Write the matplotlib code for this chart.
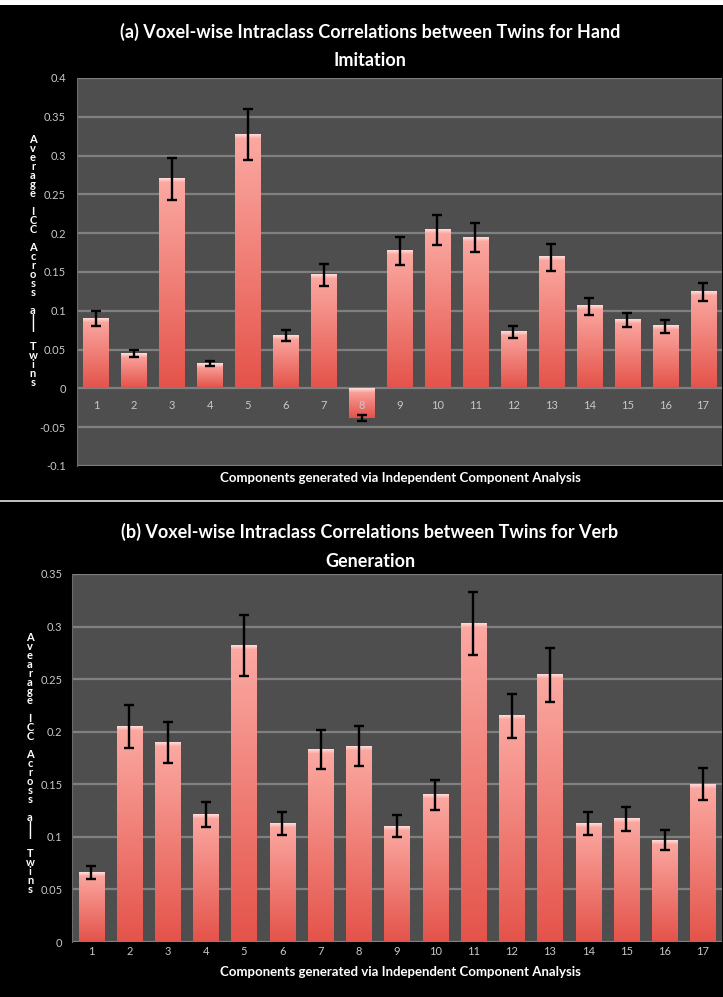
import numpy as np
import matplotlib.pyplot as plt
from matplotlib.colors import to_rgb

components = list(range(1, 18))

# (a) hand imitation: mean ICC per component and error bar half-width
hand_icc = [0.090, 0.045, 0.270, 0.032, 0.327, 0.068, 0.146, -0.038, 0.177,
            0.204, 0.194, 0.073, 0.169, 0.106, 0.088, 0.080, 0.124]
hand_err = [0.0094, 0.0045, 0.027, 0.003, 0.033, 0.007, 0.0145, 0.0035, 0.018,
            0.0195, 0.0187, 0.0077, 0.0175, 0.011, 0.0088, 0.008, 0.012]
hand_yticks = [-0.1, -0.05, 0, 0.05, 0.1, 0.15, 0.2, 0.25, 0.3, 0.35, 0.4]
hand_yticklabels = ['-0.1', '-0.05', '0', '0.05', '0.1', '0.15', '0.2', '0.25', '0.3', '0.35', '0.4']

# (b) verb generation
verb_icc = [0.066, 0.205, 0.190, 0.121, 0.282, 0.113, 0.183, 0.186, 0.110,
            0.140, 0.303, 0.215, 0.254, 0.113, 0.117, 0.097, 0.150]
verb_err = [0.0065, 0.0205, 0.0195, 0.012, 0.029, 0.011, 0.0184, 0.019, 0.0105,
            0.014, 0.030, 0.0213, 0.0256, 0.011, 0.0112, 0.0099, 0.0153]
verb_yticks = [0, 0.05, 0.1, 0.15, 0.2, 0.25, 0.3, 0.35]
verb_yticklabels = ['0', '0.05', '0.1', '0.15', '0.2', '0.25', '0.3', '0.35']

FONT = 'Lato'
TICK_COLOR = '#c8c8c8'
PLOT_BG = '#4e4e4e'
GRID_COLOR = '#808080'
BAR_TOP = to_rgb('#fbaaa3')
BAR_BOTTOM = to_rgb('#e4534a')
STACK_PITCH = 8.55  # px between stacked y-label characters

W, H = 723, 997
fig = plt.figure(figsize=(W / 100, H / 100), dpi=100, facecolor='black')
renderer = fig.canvas.get_renderer()

# white frame strip along the top and the line between the two panels
fig.patches.append(plt.Rectangle((0, 1 - 5 / H), 1, 5 / H, transform=fig.transFigure,
                                 facecolor='white', edgecolor='none'))
fig.patches.append(plt.Rectangle((0, 1 - 502 / H), 1, 2 / H, transform=fig.transFigure,
                                 facecolor='#bdbdbd', edgecolor='none'))


def bar_gradient(px_height):
    # light pink at the top fading to red, with a small glossy band on top
    n = max(int(px_height), 2)
    t = np.linspace(0, 1, n)[:, None]
    rgb = np.array(BAR_TOP) * (1 - t) + np.array(BAR_BOTTOM) * t
    d = np.arange(n)[:, None]
    gloss = np.clip(1 - d / 4.0, 0, 1) * 0.55
    rgb = rgb * (1 - gloss) + gloss
    return rgb[:, None, :]


def stacked_label(x_px, top_px, label):
    # one character per row; linespacing is scaled so rows sit STACK_PITCH px apart
    kw = dict(ha='center', va='top', color='white', fontsize=8, fontweight='bold', family=FONT)
    t = fig.text(x_px / W, 1 - top_px / H, '\n'.join(label), linespacing=1.0, **kw)
    one = fig.text(0, 0, 'A', **kw)
    h_all = t.get_window_extent(renderer).height
    h_one = one.get_window_extent(renderer).height
    one.remove()
    pitch = (h_all - h_one) / (len(label) - 1)
    t.set_linespacing(STACK_PITCH / pitch)


def draw_panel(rect, values, errors, yticks, yticklabels, ylim, title, ylabel,
               title_y, xlabel_y, ylabel_x, ylabel_top, xpad, ypad):
    ax = fig.add_axes(rect)
    ax.set_facecolor(PLOT_BG)
    for side in ['top', 'right', 'bottom']:
        ax.spines[side].set_visible(False)
    ax.spines['left'].set_color('#6c6c6c')
    ax.spines['bottom'].set_position(('data', 0))
    ax.set_xlim(0.5, 17.5)
    ax.set_ylim(*ylim)

    for yv in yticks:
        ax.axhline(yv, color=GRID_COLOR, linewidth=1.6, zorder=1)

    bars = ax.bar(components, values, width=0.66, color='none', edgecolor='none', zorder=2)
    fig.canvas.draw()
    for b in bars:
        x0, w = b.get_x(), b.get_width()
        lo, hi = sorted([b.get_y(), b.get_y() + b.get_height()])
        px = abs(ax.transData.transform((0, hi))[1] - ax.transData.transform((0, lo))[1])
        ax.imshow(bar_gradient(px), extent=[x0, x0 + w, lo, hi], aspect='auto',
                  interpolation='bilinear', zorder=2)
    ax.set_xlim(0.5, 17.5)
    ax.set_ylim(*ylim)

    ax.errorbar(components, values, yerr=errors, fmt='none', ecolor='black',
                elinewidth=1.7, capsize=3.5, capthick=1.7, zorder=3)

    ax.set_yticks(yticks)
    ax.set_yticklabels(yticklabels, color=TICK_COLOR, fontsize=8, family=FONT)
    ax.set_xticks(components)
    ax.set_xticklabels([str(c) for c in components], color=TICK_COLOR, fontsize=8, family=FONT)
    ax.tick_params(axis='both', length=0)
    ax.tick_params(axis='x', pad=xpad)
    ax.tick_params(axis='y', pad=ypad)
    ax.xaxis.set_zorder(5)

    # panel title, two centred lines
    for i, line in enumerate(title):
        fig.text(370 / W, 1 - (title_y + 29 * i) / H, line, ha='center', va='center',
                 color='white', fontsize=13, fontweight='bold', family=FONT)

    fig.text(400 / W, 1 - xlabel_y / H, 'Components generated via Independent Component Analysis',
             ha='center', va='center', color='white', fontsize=9.5, fontweight='bold', family=FONT)

    stacked_label(ylabel_x, ylabel_top, ylabel)
    return ax


draw_panel([77 / W, 1 - 466 / H, 645 / W, 388 / H], hand_icc, hand_err,
           hand_yticks, hand_yticklabels, (-0.1, 0.4),
           ['(a) Voxel-wise Intraclass Correlations between Twins for Hand', 'Imitation'],
           'Average ICC Across all Twins',
           title_y=32, xlabel_y=478, ylabel_x=33, ylabel_top=134, xpad=8, ypad=8)

draw_panel([72 / W, 1 - 942 / H, 650 / W, 368 / H], verb_icc, verb_err,
           verb_yticks, verb_yticklabels, (0, 0.35),
           ['(b) Voxel-wise Intraclass Correlations between Twins for Verb', 'Generation'],
           'Avearage ICC Across all Twins',
           title_y=532, xlabel_y=972, ylabel_x=30, ylabel_top=632, xpad=3, ypad=7)

fig.savefig('out.png', dpi=100, facecolor='black')
